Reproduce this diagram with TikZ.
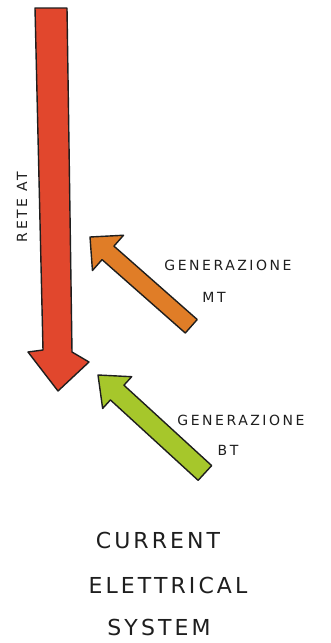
\documentclass[tikz,border=0pt]{standalone}
\usepackage{fontspec}
\setmainfont{DejaVu Sans}
\definecolor{redA}{HTML}{E1472D}
\definecolor{orangeA}{HTML}{E07D27}
\definecolor{greenA}{HTML}{A6C72B}
\definecolor{inkA}{HTML}{1E1E1E}
\tikzset{
  arrowbody/.style={draw=inkA, line width=1.4pt, line join=round},
  hand/.style={font=\fontsize{14}{16}\selectfont\addfontfeatures{LetterSpace=18}, text=inkA, inner sep=0pt},
  handbig/.style={font=\fontsize{22}{26}\selectfont\addfontfeatures{LetterSpace=14}, text=inkA, inner sep=0pt},
}
\begin{document}
\begin{tikzpicture}[x=1pt,y=1pt]
\useasboundingbox (0,0) rectangle (331,-643);
\fill[white] (0,0) rectangle (331,-643);
% red arrow (Rete AT)
\draw[arrowbody, fill=redA] (35,-8) -- (67,-8) -- (72,-352) -- (89,-362) -- (58,-391) -- (28,-352) -- (43,-350) -- cycle;
\node[hand, rotate=90] (rete) at (22,-207) {RETE AT};
% orange arrow (MT)
\begin{scope}[shift={(90,-237)}, rotate=138.6]
  \draw[arrowbody, fill=orangeA] (0,0) -- (-24,23.5) -- (-24,9) -- (-135,9) -- (-135,-9) -- (-24,-9) -- (-24,-23.5) -- cycle;
\end{scope}
% green arrow (BT)
\begin{scope}[shift={(98,-375)}, rotate=137.5]
  \draw[arrowbody, fill=greenA] (0,0) -- (-26,21.5) -- (-26,10) -- (-145,10) -- (-145,-10) -- (-26,-10) -- (-26,-21.5) -- cycle;
\end{scope}
\node[hand] (genmt) at (228,-265) {GENERAZIONE};
\node[hand] (mt) at (214,-297) {MT};
\node[hand] (genbt) at (241,-420) {GENERAZIONE};
\node[hand] (bt) at (228,-450) {BT};
\node[handbig] (l1) at (158,-540) {CURRENT};
\node[handbig] (l2) at (168,-585) {ELETTRICAL};
\node[handbig] (l3) at (159,-627) {SYSTEM};
\end{tikzpicture}
\end{document}
